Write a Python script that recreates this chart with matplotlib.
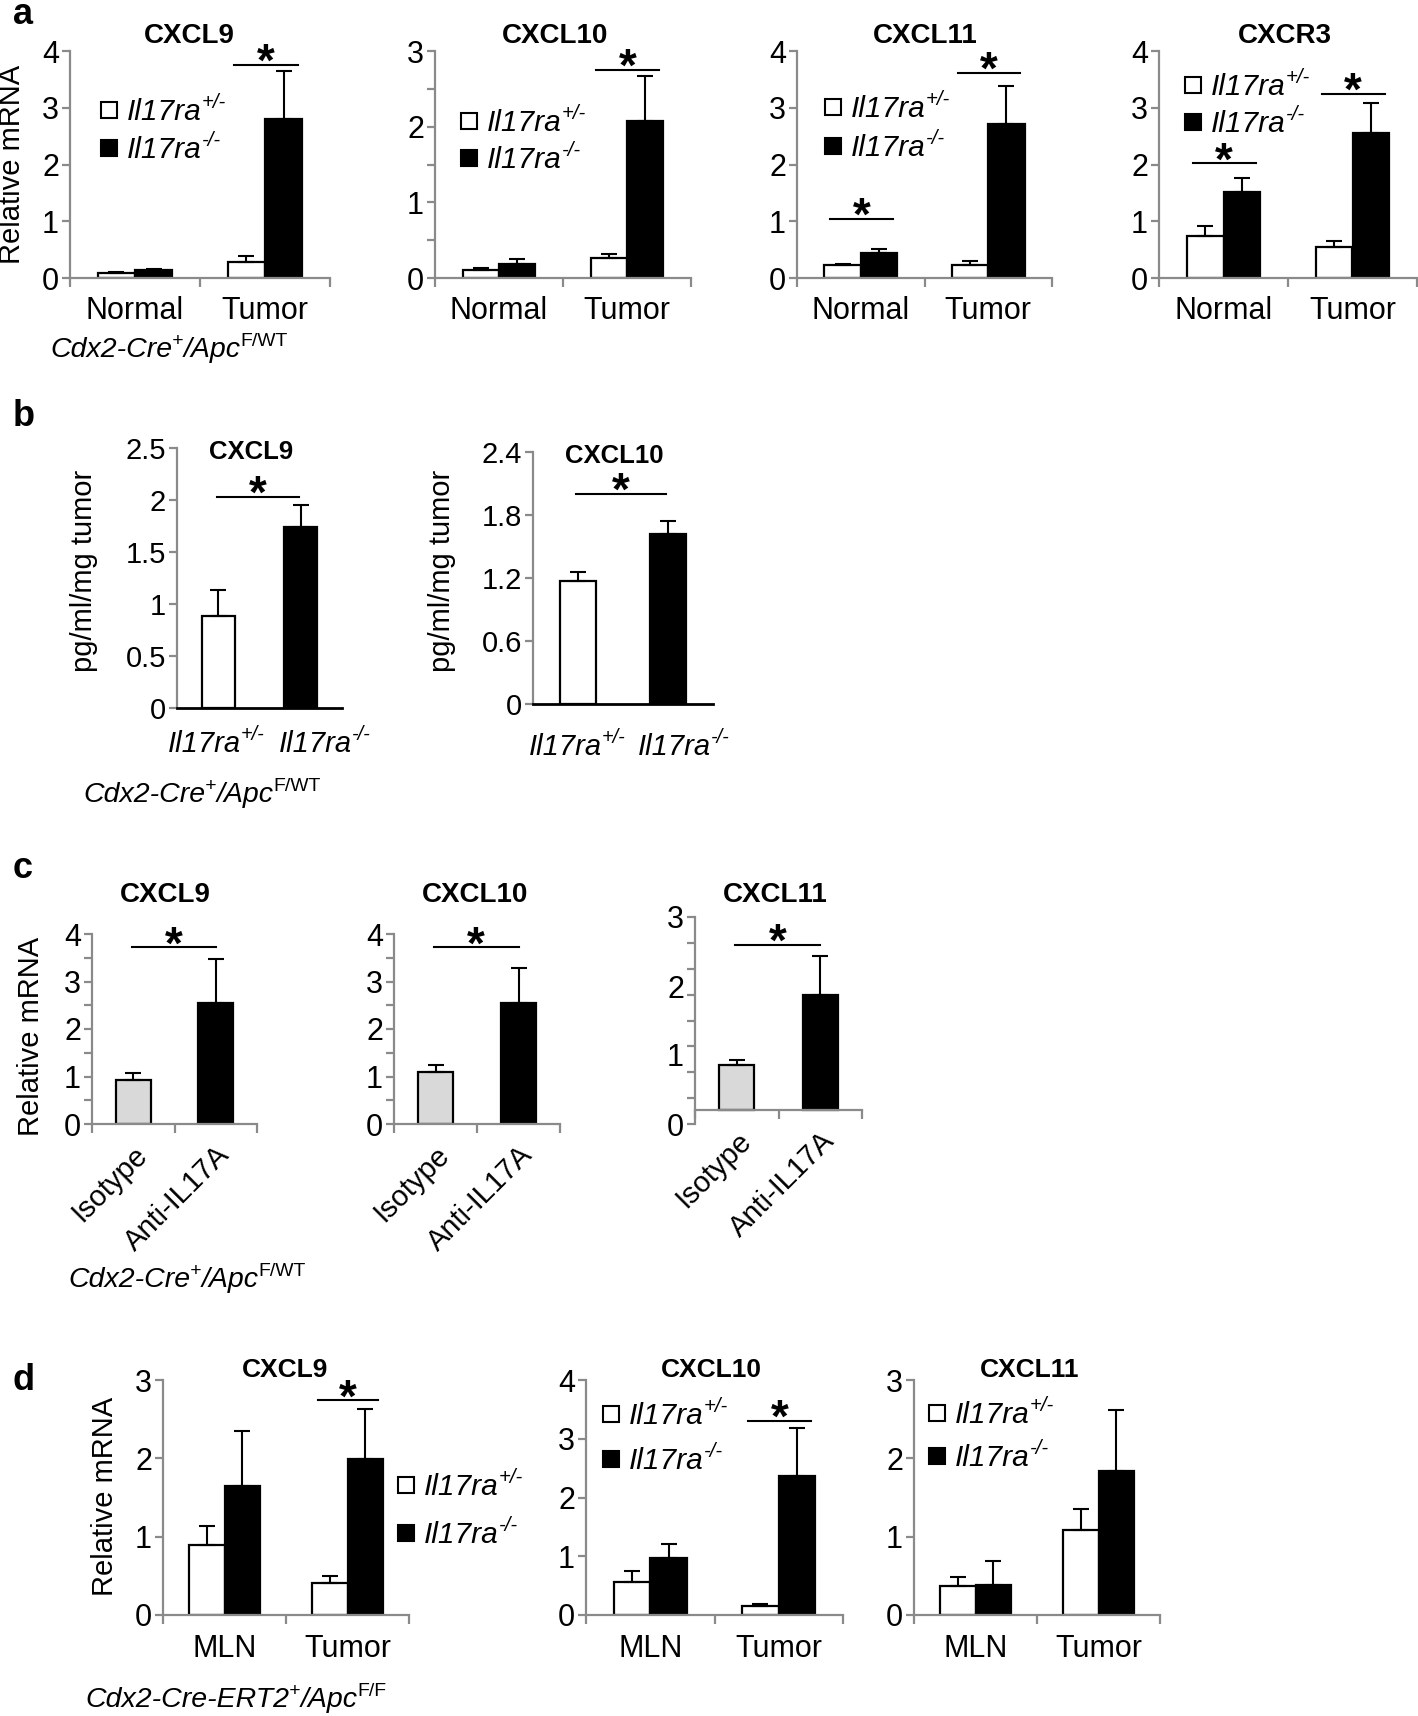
import numpy as np
import matplotlib
matplotlib.use('Agg')
import matplotlib.pyplot as plt
from matplotlib.patches import Rectangle

NARROW = ['Liberation Sans Narrow', 'Liberation Sans', 'DejaVu Sans']
REG = ['Liberation Sans', 'DejaVu Sans']
plt.rcParams['font.family'] = NARROW

# ---------------- data ----------------
# a: Cdx2-Cre+/ApcF/WT, Il17ra+/- (open) vs Il17ra-/- (filled)
a_groups = ['Normal', 'Tumor']
a_genes = ['CXCL9', 'CXCL10', 'CXCL11', 'CXCR3']
a_het = [[0.08, 0.29], [0.10, 0.26], [0.23, 0.23], [0.74, 0.54]]
a_het_err = [[0.02, 0.09], [0.03, 0.06], [0.02, 0.07], [0.18, 0.12]]
a_ko = [[0.14, 2.81], [0.18, 2.07], [0.44, 2.71], [1.52, 2.56]]
a_ko_err = [[0.02, 0.83], [0.07, 0.60], [0.07, 0.67], [0.25, 0.53]]
a_ymax = [4, 3, 4, 4]
a_sig = [[(1, 3.76)], [(1, 2.75)], [(0, 1.04), (1, 3.62)], [(0, 2.02), (1, 3.25)]]

# b: protein, pg/ml/mg tumor
b_genes = ['CXCL9', 'CXCL10']
b_geno = ['+/-', '-/-']
b_vals = [[0.88, 1.74], [1.17, 1.62]]
b_err = [[0.25, 0.21], [0.09, 0.12]]
b_ymax = [2.5, 2.4]
b_step = [0.5, 0.6]
b_sig = [2.03, 2.0]

# c: isotype vs anti-IL17A
c_groups = ['Isotype', 'Anti-IL17A']
c_genes = ['CXCL9', 'CXCL10', 'CXCL11']
c_vals = [[0.93, 2.55], [1.09, 2.55], [0.85, 1.87]]
c_err = [[0.14, 0.92], [0.15, 0.74], [0.08, 0.56]]
c_ymax = [4, 4, 3]
c_base = [0, 0, 0.2]
c_sig = [3.72, 3.72, 2.6]

# d: Cdx2-Cre-ERT2+/ApcF/F, MLN vs Tumor
d_groups = ['MLN', 'Tumor']
d_genes = ['CXCL9', 'CXCL10', 'CXCL11']
d_het = [[0.90, 0.41], [0.57, 0.16], [0.37, 1.09]]
d_het_err = [[0.23, 0.09], [0.18, 0.02], [0.11, 0.26]]
d_ko = [[1.65, 1.99], [0.97, 2.36], [0.38, 1.84]]
d_ko_err = [[0.70, 0.64], [0.24, 0.83], [0.31, 0.78]]
d_ymax = [3, 4, 3]
d_sig = [[(1, 2.74)], [(1, 3.31)], []]

# ---------------- helpers ----------------
W, H = 1418, 1716
GRAY = '#8a8a8a'
fig = plt.figure(figsize=(W / 100, H / 100), dpi=100)
renderer = fig.canvas.get_renderer()


def make_ax(x0, x1, ytop, ybot, ymin, ymax, labels, ticks, lab_size=22):
    ax = fig.add_axes([x0 / W, 1 - ybot / H, (x1 - x0) / W, (ybot - ytop) / H])
    ax.patch.set_visible(False)
    ax.set_xlim(-0.5, 1.5)
    ax.set_ylim(ymin, ymax)
    for s in ('top', 'right'):
        ax.spines[s].set_visible(False)
    for s in ('left', 'bottom'):
        ax.spines[s].set_color(GRAY)
        ax.spines[s].set_linewidth(1.6)
    ax.set_yticks(labels, ['%g' % v for v in labels])
    ax.set_yticks(ticks, minor=True)
    ax.yaxis.remove_overlapping_locs = False
    ax.tick_params(axis='y', which='major', length=0, pad=8, labelsize=lab_size)
    ax.tick_params(axis='y', which='minor', length=6, width=1.6, color=GRAY, direction='out')
    return ax


def cat_axis(ax, groups, pad):
    ax.set_xticks([0, 1], groups)
    ax.set_xticks([-0.5, 0.5, 1.5], minor=True)
    ax.tick_params(axis='x', which='major', length=0, pad=pad, labelsize=22)
    ax.tick_params(axis='x', which='minor', length=6.5, width=1.6, color=GRAY, direction='out')


def errs(ax, x, vals, err):
    ax.errorbar(x, vals, yerr=[np.zeros(len(vals)), err], fmt='none', ecolor='black',
                elinewidth=1.5, capsize=6, capthick=1.5, zorder=3)


def sig_line(ax, x0, x1, y):
    ax.plot([x0, x1], [y, y], color='black', lw=1.5, clip_on=False, zorder=4)
    ax.annotate('*', xy=((x0 + x1) / 2, y), xytext=(0, -8), textcoords='offset points',
                ha='center', va='baseline', fontsize=33, fontweight='bold', family=REG,
                annotation_clip=False)


def rich(x, y, parts, size, ha='left'):
    items = []
    for txt, kind in parts:
        sup = 's' in kind
        t = fig.text(0, 0, txt, fontsize=size * 0.68 if sup else size,
                     fontstyle='italic' if 'i' in kind else 'normal', va='baseline', ha='left')
        items.append((t, t.get_window_extent(renderer).width, sup))
    total = sum(w for _, w, _ in items)
    cx = x - total / 2 if ha == 'center' else x
    for t, w, sup in items:
        yy = y - size * 0.40 * 100 / 72 if sup else y
        t.set_position((cx / W, 1 - yy / H))
        cx += w


def legend(x, y_open, y_fill, size=21.5):
    for yc, fc, sup in ((y_open, 'white', '+/-'), (y_fill, 'black', '-/-')):
        fig.add_artist(Rectangle((x / W, 1 - (yc + 8) / H), 16 / W, 16 / H,
                                 transform=fig.transFigure, facecolor=fc,
                                 edgecolor='black', lw=1.5))
        rich(x + 26, yc + 10, [('Il17ra', 'i'), (sup, 'si')], size)


def grouped(ax, het, het_err, ko, ko_err, w=0.285):
    x = np.arange(2)
    ax.bar(x - w / 2, het, w, color='white', edgecolor='black', lw=1.6, zorder=2)
    ax.bar(x + w / 2, ko, w, color='black', edgecolor='black', lw=1.6, zorder=2)
    errs(ax, x - w / 2, het, het_err)
    errs(ax, x + w / 2, ko, ko_err)


def ylabel(x, y, txt):
    fig.text(x / W, 1 - y / H, txt, rotation=90, ha='center', va='center',
             family=REG, fontsize=21)


def title(x, y, txt, size):
    fig.text(x / W, 1 - y / H, txt, ha='center', va='center', fontweight='bold',
             fontsize=size)


def letter(y, txt):
    fig.text(13 / W, 1 - y / H, txt, fontsize=26, fontweight='bold', family=REG,
             va='baseline')


CDX_WT = [('Cdx2-Cre', 'i'), ('+', 'si'), ('/Apc', 'i'), ('F/WT', 'sn')]

# ---------------- panel a ----------------
A_X = [(70, 330), (435, 691), (797, 1052), (1159, 1417)]
A_TITLE_X = [189, 555, 925, 1285]
A_LEG = [(101, 110, 148), (461, 121, 158), (825, 107, 146), (1185, 85, 122)]
for i, gene in enumerate(a_genes):
    ymax = a_ymax[i]
    ticks = np.arange(0, ymax + 0.01, 0.5) if gene == 'CXCL10' else np.arange(0, ymax + 1)
    ax = make_ax(*A_X[i], 51, 278, 0, ymax, np.arange(0, ymax + 1), ticks)
    cat_axis(ax, a_groups, 13)
    grouped(ax, a_het[i], a_het_err[i], a_ko[i], a_ko_err[i])
    for g, y in a_sig[i]:
        sig_line(ax, g - 0.24, g + 0.25, y)
    title(A_TITLE_X[i], 36, gene, 20)
    legend(*A_LEG[i])
ylabel(12, 164, 'Relative mRNA')
rich(50, 357, CDX_WT, 20.5)
letter(24, 'a')

# ---------------- panel b ----------------
B_RECT = [(177, 342, 448, 708), (533, 713, 452, 704)]
B_TITLE = [(251, 452), (614, 456)]
B_YL = [(84, 571), (442, 571)]
B_XLAB = [((216, 325), 752), ((577, 684), 755)]
for i, gene in enumerate(b_genes):
    x0, x1, yt, yb = B_RECT[i]
    ymax = b_ymax[i]
    lab = np.round(np.arange(0, ymax + 0.01, b_step[i]), 2)
    ax = make_ax(x0, x1, yt, yb, 0, ymax, lab, lab, lab_size=21)
    ax.spines['bottom'].set_color('black')
    ax.spines['bottom'].set_linewidth(2)
    ax.set_xticks([])
    w = 0.4
    ax.bar([0, 1], b_vals[i], w, color=['white', 'black'], edgecolor='black', lw=1.6, zorder=2)
    errs(ax, np.arange(2), b_vals[i], b_err[i])
    sig_line(ax, -0.02, 0.98, b_sig[i])
    title(*B_TITLE[i], gene, 18.5)
    ylabel(*B_YL[i], 'pg/ml/mg tumor')
    (xa, xb), yl = B_XLAB[i]
    for xc, sup in zip((xa, xb), b_geno):
        rich(xc, yl, [('Il17ra', 'i'), (sup, 'si')], 21, ha='center')
rich(83, 802, CDX_WT, 20.5)
letter(426, 'b')

# ---------------- panel c ----------------
C_RECT = [(92, 257, 934, 1124), (394, 560, 934, 1124), (695, 862, 917, 1124)]
C_TITLE = [(165, 895), (475, 895), (775, 895)]
for i, gene in enumerate(c_genes):
    x0, x1, yt, yb = C_RECT[i]
    ymax = c_ymax[i]
    ticks = np.arange(0, ymax + 0.01, ymax / 8)
    ax = make_ax(x0, x1, yt, yb, 0, ymax, np.arange(0, ymax + 1), ticks)
    ax.spines['bottom'].set_position(('data', c_base[i]))
    ax.set_xticks([0, 1])
    ax.set_xticklabels(c_groups, rotation=45, ha='right', rotation_mode='anchor',
                       family=REG, fontsize=21)
    ax.set_xticks([-0.5, 0.5, 1.5], minor=True)
    ax.tick_params(axis='x', which='major', length=0, pad=12)
    ax.tick_params(axis='x', which='minor', length=6.5, width=1.6, color=GRAY, direction='out')
    w = 0.42
    base = c_base[i]
    ax.bar([0, 1], np.array(c_vals[i]) - base, w, bottom=base, color=['#d9d9d9', 'black'],
           edgecolor='black', lw=1.6, zorder=2)
    errs(ax, np.arange(2), c_vals[i], c_err[i])
    sig_line(ax, -0.02, 1.0, c_sig[i])
    title(*C_TITLE[i], gene, 20)
ylabel(31, 1036, 'Relative mRNA')
rich(68, 1287, CDX_WT, 20.5)
letter(878, 'c')

# ---------------- panel d ----------------
D_X = [(163, 409), (586, 843), (914, 1160)]
D_TITLE_X = [285, 711, 1030]
D_LEG = [(398, 1485, 1533), (603, 1414, 1459), (929, 1413, 1456)]
for i, gene in enumerate(d_genes):
    ymax = d_ymax[i]
    ax = make_ax(*D_X[i], 1380, 1615, 0, ymax, np.arange(0, ymax + 1), np.arange(0, ymax + 1))
    cat_axis(ax, d_groups, 14)
    grouped(ax, d_het[i], d_het_err[i], d_ko[i], d_ko_err[i])
    for g, y in d_sig[i]:
        sig_line(ax, g - 0.24, g + 0.25, y)
    title(D_TITLE_X[i], 1370, gene, 19)
    legend(*D_LEG[i])
ylabel(105, 1496, 'Relative mRNA')
rich(85, 1707, [('Cdx2-Cre-ERT2', 'i'), ('+', 'si'), ('/Apc', 'i'), ('F/F', 'sn')], 20.5)
letter(1390, 'd')

fig.savefig('out.png', dpi=100)
